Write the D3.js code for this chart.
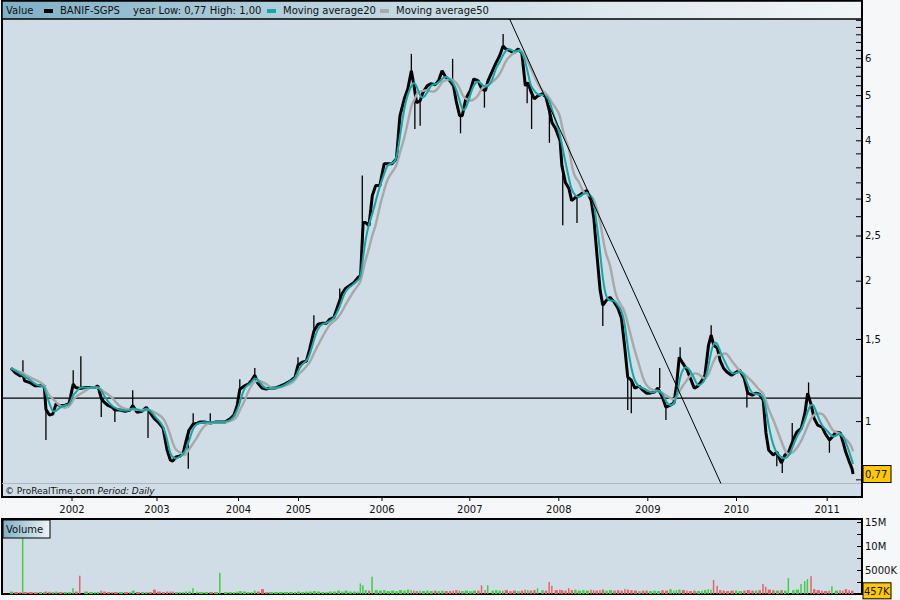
<!DOCTYPE html>
<html><head><meta charset="utf-8">
<script src="https://cdn.jsdelivr.net/npm/d3@7"></script>
<style>
html,body{margin:0;padding:0;background:#f5f7f9;}
svg{display:block;font-family:"DejaVu Sans",Verdana,sans-serif;}
</style></head>
<body><svg id="c" width="900" height="600"></svg>
<script>
// ---------------- DATA ----------------
const dates = [2001.29,2001.34,2001.40,2001.43,2001.45,2001.51,2001.57,2001.63,2001.68,2001.70,2001.74,2001.78,2001.82,2001.86,2001.92,2001.97,2001.99,
2002.02,2002.05,2002.10,2002.16,2002.22,2002.28,2002.31,2002.35,2002.38,2002.43,2002.48,2002.51,2002.57,2002.63,2002.69,2002.72,2002.77,2002.83,2002.88,2002.92,2002.97,
2003.02,2003.08,2003.13,2003.17,2003.20,2003.24,2003.29,2003.33,2003.36,2003.40,2003.45,2003.50,2003.53,2003.60,2003.66,2003.72,2003.78,2003.84,2003.90,2003.95,2003.99,
2004.03,2004.10,2004.17,2004.23,2004.28,2004.33,2004.40,2004.47,2004.53,2004.62,2004.70,2004.78,2004.87,2004.95,
2005.00,2005.05,2005.10,2005.14,2005.19,2005.24,2005.29,2005.34,2005.38,2005.43,2005.48,2005.53,2005.57,2005.62,2005.67,2005.72,2005.75,2005.78,2005.81,2005.85,2005.89,2005.93,2005.98,
2006.03,2006.07,2006.12,2006.17,2006.21,2006.26,2006.30,2006.34,2006.37,2006.40,2006.44,2006.47,2006.52,2006.56,2006.61,2006.65,2006.69,2006.73,2006.78,2006.82,2006.85,2006.89,2006.92,2006.96,
2007.01,2007.05,2007.10,2007.14,2007.18,2007.21,2007.26,2007.30,2007.34,2007.38,2007.41,2007.46,2007.50,2007.55,2007.59,2007.63,2007.66,2007.69,2007.73,2007.77,2007.82,2007.86,2007.90,2007.93,2007.97,
2008.02,2008.04,2008.08,2008.12,2008.15,2008.19,2008.23,2008.28,2008.32,2008.37,2008.40,2008.43,2008.47,2008.50,2008.54,2008.58,2008.63,2008.67,2008.71,2008.75,2008.78,2008.82,2008.86,2008.91,2008.95,2008.99,
2009.03,2009.08,2009.12,2009.17,2009.21,2009.26,2009.30,2009.33,2009.36,2009.40,2009.45,2009.48,2009.53,2009.57,2009.62,2009.65,2009.69,2009.72,2009.75,2009.79,2009.82,2009.86,2009.90,2009.95,
2010.00,2010.04,2010.09,2010.13,2010.18,2010.22,2010.26,2010.30,2010.33,2010.36,2010.41,2010.45,2010.50,2010.54,2010.58,2010.63,2010.67,2010.72,2010.76,2010.79,2010.83,2010.86,2010.90,2010.95,2010.98,
2011.03,2011.06,2011.10,2011.15,2011.18,2011.21,2011.25,2011.28,2011.29];

const closes = [1.30,1.27,1.25,1.26,1.22,1.21,1.19,1.19,1.19,1.06,1.03,1.035,1.09,1.08,1.08,1.09,1.13,
1.20,1.18,1.175,1.18,1.18,1.18,1.19,1.12,1.10,1.08,1.07,1.056,1.056,1.05,1.056,1.08,1.045,1.05,1.07,1.045,1.015,
0.995,0.966,0.867,0.825,0.821,0.838,0.842,0.858,0.902,0.957,0.985,0.99,0.995,0.995,0.99,0.995,0.995,0.995,1.01,1.03,1.08,
1.17,1.188,1.20,1.224,1.254,1.206,1.177,1.171,1.177,1.177,1.188,1.20,1.218,1.242,
1.318,1.337,1.344,1.426,1.558,1.613,1.621,1.621,1.653,1.669,1.771,1.879,1.925,1.954,1.983,2.032,2.053,2.665,2.665,2.626,3.044,3.198,3.198,
3.564,3.564,3.564,3.653,4.515,4.909,5.157,5.636,5.234,4.813,4.861,5.056,5.234,5.286,5.26,5.365,5.636,5.47,5.365,5.234,4.861,4.515,4.515,4.909,
5.107,5.418,5.365,5.157,5.107,5.365,5.636,5.861,6.068,6.374,6.279,6.219,6.159,6.279,6.159,5.234,5.312,5.107,4.909,4.983,5.032,4.958,4.627,4.362,4.234,
3.992,3.529,3.246,3.151,2.97,3.014,3.044,3.09,3.12,2.97,2.718,2.322,1.907,1.771,1.815,1.842,1.797,1.745,1.661,1.419,1.242,1.224,1.177,1.188,1.165,1.148,
1.148,1.154,1.177,1.126,1.071,1.082,1.093,1.194,1.371,1.331,1.286,1.242,1.177,1.188,1.224,1.254,1.454,1.528,1.454,1.433,1.35,1.298,1.273,1.254,
1.273,1.286,1.236,1.148,1.137,1.148,1.142,1.109,0.943,0.867,0.846,0.858,0.813,0.846,0.858,0.911,0.947,0.966,1.04,1.148,1.082,1.015,0.98,0.971,0.943,
0.911,0.924,0.947,0.943,0.902,0.858,0.817,0.79,0.77];

// volume in millions of shares, one per sample above
const volumes = [0.3,0.2,0.2,11.5,0.2,0.2,0.15,0.2,0.2,0.3,0.25,0.2,0.3,0.2,0.2,0.2,0.2,
1.0,0.3,3.6,0.3,0.2,0.2,0.2,0.5,0.3,0.2,0.2,0.2,0.2,0.2,0.2,0.5,0.2,0.2,0.2,0.2,0.7,
0.3,0.2,0.3,0.3,0.3,0.2,0.2,0.2,0.3,0.3,1.0,0.3,0.2,0.2,0.2,0.2,4.2,0.2,0.2,0.2,0.3,
0.4,0.3,0.2,0.2,0.5,0.3,0.8,0.2,0.2,0.2,0.2,0.2,0.2,0.2,
0.3,0.2,0.3,0.3,0.4,0.3,0.2,0.2,0.3,0.3,0.5,0.3,0.5,0.3,0.3,0.3,2.0,1.6,0.6,0.5,3.4,0.6,0.5,
0.6,0.4,0.5,0.4,0.6,0.5,0.7,0.6,0.5,0.4,0.5,0.4,0.5,0.4,0.5,0.4,0.5,0.4,0.4,0.5,0.6,0.5,0.4,0.5,
0.4,0.5,0.5,1.6,0.6,1.6,0.5,0.6,0.5,0.5,0.6,0.4,0.5,0.4,0.5,0.7,0.6,0.5,0.6,1.0,0.6,0.5,2.3,1.5,0.6,
0.7,0.6,0.5,1.0,0.6,0.7,0.5,0.6,0.5,0.7,0.6,0.5,0.6,0.7,0.5,0.6,0.5,0.6,0.5,0.8,0.7,0.6,0.5,0.4,0.5,0.5,
0.4,0.5,0.4,0.6,0.5,0.8,0.5,0.6,0.7,0.6,0.5,0.4,0.5,0.4,0.5,0.6,0.8,0.7,2.7,1.5,0.6,0.5,0.4,0.5,
0.5,0.4,0.5,0.6,0.5,0.5,0.6,1.9,1.3,0.7,0.6,0.5,0.6,0.5,3.1,0.6,0.7,1.9,2.5,2.9,3.5,0.8,0.6,0.5,0.4,
0.5,1.4,0.5,0.6,0.5,0.8,0.6,0.5,0.457];

// intraday extremes (wicks) visible on the chart
const spikeDates  = [2001.43,2001.70,2002.02,2002.11,2002.35,2002.51,2002.72,2002.90,2003.39,2003.45,2003.66,2004.03,2004.28,2005.00,2005.19,2005.50,2005.77,2006.34,2006.38,2006.44,2006.81,2006.90,2007.17,2007.38,2007.65,2007.70,2007.90,2008.05,2008.21,2008.50,2008.78,2008.82,2009.14,2009.21,2009.37,2009.72,2010.12,2010.45,2010.51,2010.62,2010.80,2011.03,2011.29];
const spikeValues = [1.35,0.911,1.286,1.377,1.02,0.995,1.165,0.92,0.79,1.04,1.04,1.23,1.30,1.37,1.686,1.925,3.36,6.13,4.23,4.30,5.98,4.14,4.70,6.76,4.80,4.23,3.95,2.63,2.66,1.60,1.056,1.04,1.30,1.005,1.44,1.605,1.07,0.80,0.774,0.99,1.21,0.855,0.774];

const yearTicks = [2002,2003,2004,2005,2006,2007,2008,2009,2010,2011];
const priceTicks = [0.75,1,1.25,1.5,1.75,2,2.25,2.5,2.75,3,3.25,3.5,3.75,4,4.25,4.5,4.75,5,5.25,5.5,5.75,6,6.25,6.5,6.75,7,7.25];
const priceLabels = [1,1.5,2,2.5,3,4,5,6];
const volumeTicks = [2.5,5,7.5,10,12.5,15];
const volumeLabels = {5:"5000K",10:"10M",15:"15M"};
const supportLevel = 1.12;
const trendStart = [2007.45, 7.3];
const trendEnd = [2009.83, 0.735];
const lastPrice = 0.77, lastVolume = 457;
const legendItems = ["BANIF-SGPS","Moving average20","Moving average50"];
const ma20Window = 0.09, ma50Window = 0.22;

// ---------------- CHART ----------------
const svg = d3.select("#c");
const plotBg = "#d0dde7";
const main = {l:3, r:862, t:19, b:484};
const vol = {t:519, b:594};

// ProRealTime-style compressed time axis (trading-day spacing)
const x = d3.scaleLinear()
  .domain([2001.29,2002,2003,2004,2005,2006,2007,2008,2009,2010,2011,2011.29])
  .range([11,71.5,156.5,238,298,381.5,469.3,558.3,647.3,736,826.7,853]);
const y = d3.scaleLog().domain([0.733, 7.28]).range([main.b, main.t]);
const yv = d3.scaleLinear().domain([0, 15.625]).range([vol.b, vol.t]);

const defs = svg.append("defs");
const grad = defs.append("linearGradient").attr("id","lg").attr("x1","0").attr("x2","1").attr("y1","0").attr("y2","0");
grad.append("stop").attr("offset","0%").attr("stop-color","#7eb0c7");
grad.append("stop").attr("offset","35%").attr("stop-color","#b6d1dd");
grad.append("stop").attr("offset","70%").attr("stop-color","#dde8ee");
grad.append("stop").attr("offset","100%").attr("stop-color","#f0f4f6");
const grad2 = defs.append("linearGradient").attr("id","lg2").attr("x1","0").attr("x2","1");
grad2.append("stop").attr("offset","0%").attr("stop-color","#7eb0c7");
grad2.append("stop").attr("offset","100%").attr("stop-color","#eef3f6");
defs.append("clipPath").attr("id","clipMain").append("rect")
  .attr("x",main.l).attr("y",main.t).attr("width",main.r-main.l).attr("height",main.b-main.t);
defs.append("clipPath").attr("id","clipVol").append("rect")
  .attr("x",main.l).attr("y",vol.t+1).attr("width",main.r-main.l).attr("height",vol.b-vol.t-1);

// main panel
svg.append("rect").attr("x",2).attr("y",1).attr("width",860).attr("height",496)
  .attr("fill",plotBg).attr("stroke","#000").attr("stroke-width",2);
// footer separator
svg.append("line").attr("x1",2).attr("x2",862).attr("y1",483.5).attr("y2",483.5)
  .attr("stroke","#a9b8c6").attr("stroke-width",1);
const ft = svg.append("text").attr("x",5).attr("y",494).attr("font-size",9).attr("fill","#111");
ft.append("tspan").text("© ProRealTime.com  ");
ft.append("tspan").attr("font-style","italic").text("Period: Daily");

// legend bar
svg.append("rect").attr("x",2).attr("y",1).attr("width",860).attr("height",18)
  .attr("fill","url(#lg)").attr("stroke","#000").attr("stroke-width",1.5);
const lg = svg.append("g").attr("font-size",10).attr("fill","#111");
lg.append("text").attr("x",6).attr("y",14).text("Value");
lg.append("rect").attr("x",44).attr("y",9).attr("width",9).attr("height",4).attr("fill","#000");
lg.append("text").attr("x",60).attr("y",14).text(legendItems[0]);
lg.append("text").attr("x",133).attr("y",14).text("year Low: 0,77 High: 1,00");
lg.append("rect").attr("x",267).attr("y",9).attr("width",9).attr("height",4).attr("fill","#10a8a8");
lg.append("text").attr("x",283).attr("y",14).text(legendItems[1]);
lg.append("rect").attr("x",380).attr("y",9).attr("width",9).attr("height",4).attr("fill","#aaaaaa");
lg.append("text").attr("x",396).attr("y",14).text(legendItems[2]);

const series = dates.map((d,i)=>({t:d, c:closes[i], v:volumes[i], up: i===0 ? true : closes[i] >= closes[i-1]}));
function movingAvg(win){
  return series.map(p => ({t:p.t, c:d3.mean(series.filter(q => q.t > p.t - win && q.t <= p.t), q => q.c)}));
}
const ma20 = movingAvg(ma20Window), ma50 = movingAvg(ma50Window);

const g = svg.append("g").attr("clip-path","url(#clipMain)");
// horizontal level
g.append("line").attr("x1",main.l).attr("x2",main.r).attr("y1",y(supportLevel)).attr("y2",y(supportLevel))
  .attr("stroke","#000").attr("stroke-width",1.2);
// price wicks
const bis = d3.bisector(p => p.t).center;
g.selectAll("line.sp").data(spikeDates).join("line").attr("class","sp")
  .attr("x1",(d)=>x(d)).attr("x2",(d)=>x(d))
  .attr("y1",(d)=>y(series[bis(series,d)].c))
  .attr("y2",(d,i)=>y(spikeValues[i]))
  .attr("stroke","#000").attr("stroke-width",1.3);
// price
g.append("path").datum(series)
  .attr("d", d3.line().x(p=>x(p.t)).y(p=>y(p.c)))
  .attr("fill","none").attr("stroke","#000").attr("stroke-width",3).attr("stroke-linejoin","bevel");
// moving averages
g.append("path").datum(ma50)
  .attr("d", d3.line().curve(d3.curveBasis).x(p=>x(p.t)).y(p=>y(p.c)))
  .attr("fill","none").attr("stroke","#a8a8a8").attr("stroke-width",2.4);
g.append("path").datum(ma20)
  .attr("d", d3.line().curve(d3.curveBasis).x(p=>x(p.t)).y(p=>y(p.c)))
  .attr("fill","none").attr("stroke","#10a8a8").attr("stroke-width",2);
// trend line
g.append("line").attr("x1",x(trendStart[0])).attr("y1",y(trendStart[1]))
  .attr("x2",x(trendEnd[0])).attr("y2",y(trendEnd[1])).attr("stroke","#000").attr("stroke-width",1);

// right price axis
const fmt = d => String(d).replace(".",",");
const ya = svg.append("g").attr("transform",`translate(${main.r},0)`)
  .call(d3.axisRight(y).tickValues(priceTicks).tickSizeInner(-6).tickSizeOuter(0).tickPadding(3)
    .tickFormat(d => priceLabels.includes(d) ? fmt(d) : ""));
ya.select(".domain").remove();
ya.selectAll("line").attr("stroke","#000");
ya.selectAll("text").attr("font-size",10).attr("fill","#111").attr("font-family","DejaVu Sans, Verdana, sans-serif");
svg.append("line").attr("x1",main.r).attr("x2",main.r).attr("y1",1).attr("y2",497).attr("stroke","#000").attr("stroke-width",2);
// last price box
svg.append("rect").attr("x",863).attr("y",y(lastPrice)-8.5).attr("width",28).attr("height",17)
  .attr("fill","#ffc800").attr("stroke","#000").attr("stroke-width",1);
svg.append("text").attr("x",865).attr("y",y(lastPrice)+4).attr("font-size",10).attr("fill","#111").text(fmt(lastPrice));

// x axis
const xa = svg.append("g").attr("transform","translate(0,498)")
  .call(d3.axisBottom(x).tickValues(yearTicks).tickSizeInner(3).tickSizeOuter(0).tickPadding(5).tickFormat(d3.format("d")));
xa.select(".domain").remove();
xa.selectAll("line").attr("stroke","#000");
xa.selectAll("text").attr("font-size",10).attr("fill","#111").attr("font-family","DejaVu Sans, Verdana, sans-serif");

// volume panel
svg.append("rect").attr("x",2).attr("y",vol.t).attr("width",860).attr("height",vol.b-vol.t)
  .attr("fill",plotBg).attr("stroke","#000").attr("stroke-width",2);
const vg = svg.append("g").attr("clip-path","url(#clipVol)");
vg.selectAll("rect").data(series).join("rect")
  .attr("x",(p,i)=> x(p.t) - 1)
  .attr("width",(p,i)=> p.v > 0.9 ? 1.5 : Math.max(1.5, i < series.length-1 ? x(series[i+1].t) - x(p.t) - 1.2 : 1.5))
  .attr("y",p => yv(p.v) - 1)
  .attr("height",p => yv(0) - yv(p.v) + 1)
  .attr("fill",p => p.up ? "#44cc44" : "#e06666");
svg.append("rect").attr("x",3).attr("y",vol.t+1).attr("width",47).attr("height",18)
  .attr("fill","url(#lg2)").attr("stroke","#000").attr("stroke-width",1);
svg.append("text").attr("x",6).attr("y",vol.t+14).attr("font-size",10).attr("fill","#111").text("Volume");
const va = svg.append("g").attr("transform",`translate(${main.r},0)`)
  .call(d3.axisRight(yv).tickValues(volumeTicks).tickSizeInner(-5).tickSizeOuter(0).tickPadding(3)
    .tickFormat(d => volumeLabels[d] || ""));
va.select(".domain").remove();
va.selectAll("line").attr("stroke","#000");
va.selectAll("text").attr("font-size",10).attr("fill","#111").attr("font-family","DejaVu Sans, Verdana, sans-serif");
svg.append("line").attr("x1",main.r).attr("x2",main.r).attr("y1",vol.t).attr("y2",vol.b+1).attr("stroke","#000").attr("stroke-width",2);
svg.append("rect").attr("x",863).attr("y",yv(lastVolume/1000)-9).attr("width",28).attr("height",16)
  .attr("fill","#ffc800").attr("stroke","#000").attr("stroke-width",1);
svg.append("text").attr("x",864).attr("y",yv(lastVolume/1000)+3).attr("font-size",10).attr("fill","#111").text(lastVolume+"K");
</script></body></html>
